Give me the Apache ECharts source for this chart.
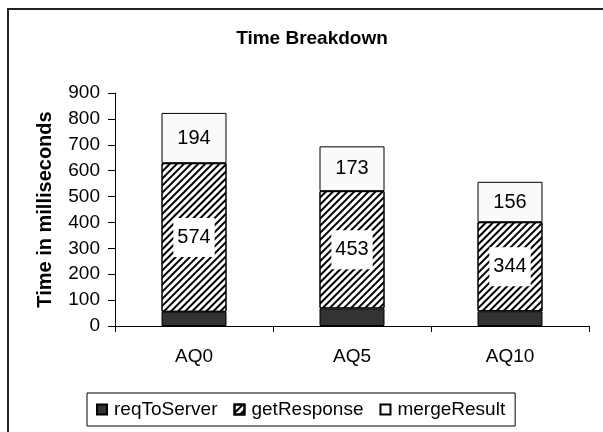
<!DOCTYPE html>
<html>
<head>
<meta charset="utf-8">
<title>Time Breakdown</title>
<script src="https://cdn.jsdelivr.net/npm/echarts@6/dist/echarts.min.js"></script>
<style>
    html, body { margin: 0; padding: 0; background: #fff; }
    #chart { width: 603px; height: 432px; }
</style>
</head>
<body>
<div id="chart"></div>
<script>
// 数据
const categories = ['AQ0', 'AQ5', 'AQ10'];
const reqToServer = [55, 68, 57];
const getResponse = [574, 453, 344];
const mergeResult = [194, 173, 156];
const yTicks = [0, 100, 200, 300, 400, 500, 600, 700, 800, 900];

const font = 'Arial, "Liberation Sans", sans-serif';

let mychart = echarts.init(document.getElementById('chart'));
mychart.setOption({
    animation: false,
    title: {
        text: 'Time Breakdown',
        left: 307,
        textAlign: 'center',
        top: 24,
        textStyle: { color: '#000', fontSize: 19, fontWeight: 'bold', fontFamily: font }
    },
    // 外框
    graphic: [{
        type: 'rect',
        shape: { x: 8, y: 9, width: 700, height: 600 },
        style: { fill: 'none', stroke: '#222', lineWidth: 2 },
        silent: true
    }],
    legend: {
        left: 87,
        top: 393,
        width: 436,
        padding: [7, 10, 7, 9],
        borderColor: '#000',
        borderWidth: 1,
        itemWidth: 10,
        itemHeight: 10,
        itemGap: 16,
        icon: 'rect',
        textStyle: { color: '#000', fontSize: 19, fontFamily: font, padding: [0, 0, 0, 2] },
        data: ['reqToServer', 'getResponse', 'mergeResult']
    },
    grid: {
        left: 115,
        top: 93,
        right: 14,
        bottom: 106
    },
    xAxis: {
        type: 'category',
        data: categories,
        axisLine: { lineStyle: { color: '#000', width: 1 } },
        axisTick: { show: true, length: 6, lineStyle: { color: '#000' } },
        axisLabel: { color: '#000', fontSize: 19, fontFamily: font, margin: 21 }
    },
    yAxis: {
        type: 'value',
        min: yTicks[0],
        max: yTicks[yTicks.length - 1],
        interval: 100,
        name: 'Time in milliseconds',
        nameLocation: 'middle',
        nameGap: 60,
        nameTextStyle: { color: '#000', fontSize: 20, fontWeight: 'bold', fontFamily: font },
        axisLine: { show: true, lineStyle: { color: '#000', width: 1 } },
        axisTick: { show: true, length: 7, lineStyle: { color: '#000' } },
        splitLine: { show: false },
        axisLabel: { color: '#000', fontSize: 19, fontFamily: font, margin: 15 }
    },
    series: [
        {
            name: 'reqToServer',
            type: 'bar',
            stack: 'total',
            barWidth: 65,
            data: reqToServer,
            itemStyle: { color: '#333', borderColor: '#000', borderWidth: 1 }
        },
        {
            name: 'getResponse',
            type: 'bar',
            stack: 'total',
            data: getResponse,
            itemStyle: {
                color: '#fff',
                borderColor: '#000',
                borderWidth: 1,
                // 斜线填充
                decal: {
                    symbol: 'rect',
                    symbolSize: 1,
                    dashArrayX: [[1, 0]],
                    dashArrayY: [1.5, 2.5],
                    rotation: -Math.PI / 4,
                    color: '#000'
                }
            },
            label: {
                show: true,
                position: 'inside',
                color: '#000',
                fontSize: 20,
                fontFamily: font,
                backgroundColor: '#fff',
                padding: [10, 4, 9, 4]
            }
        },
        {
            name: 'mergeResult',
            type: 'bar',
            stack: 'total',
            data: mergeResult,
            itemStyle: { color: '#fafafa', borderColor: '#000', borderWidth: 1 },
            label: {
                show: true,
                position: 'inside',
                color: '#000',
                fontSize: 20,
                fontFamily: font
            }
        }
    ]
});
</script>
</body>
</html>
